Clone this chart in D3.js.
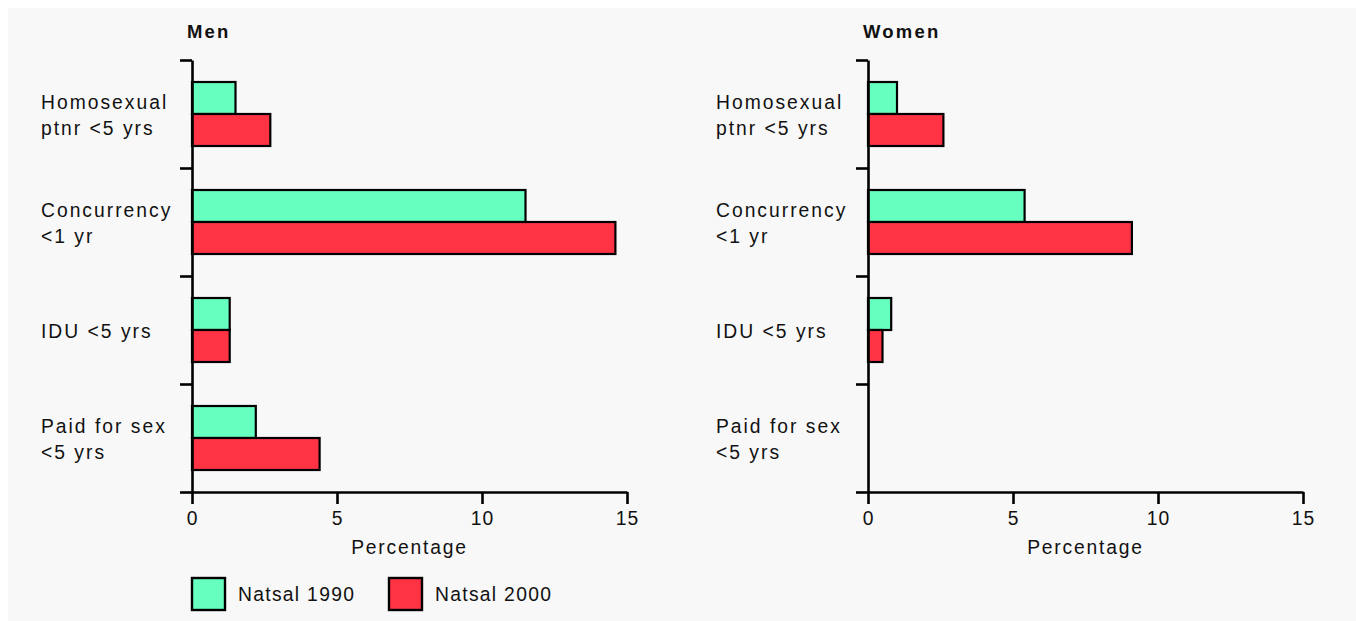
<!DOCTYPE html>
<html>
<head>
<meta charset="utf-8">
<script src="https://cdn.jsdelivr.net/npm/d3@7"></script>
<style>
  html, body { margin: 0; padding: 0; background: #ffffff; }
  svg { display: block; }
  text { font-family: "Liberation Sans", Arial, sans-serif; fill: #111; }
</style>
</head>
<body>
<svg id="chart" width="1356" height="621"></svg>
<script>
// ---- data ----
const categories = ["Homosexual|ptnr <5 yrs", "Concurrency|<1 yr", "IDU <5 yrs", "Paid for sex|<5 yrs"];
const seriesNames = ["Natsal 1990", "Natsal 2000"];
const men1990 = [1.5, 11.5, 1.3, 2.2];
const men2000 = [2.7, 14.6, 1.3, 4.4];
const women1990 = [1.0, 5.4, 0.8, null];
const women2000 = [2.6, 9.1, 0.5, null];
const xTicks = [0, 5, 10, 15];
const panelTitles = ["Men", "Women"];
const xTitle = "Percentage";

const colors = ["#66ffc0", "#ff3344"];

const svg = d3.select("#chart");
svg.append("rect").attr("x", 8).attr("y", 8).attr("width", 1348).attr("height", 613).attr("fill", "#f8f8f8");

const panels = [
  { title: panelTitles[0], s: [men1990, men2000], x0: 192, labelX: 41 },
  { title: panelTitles[1], s: [women1990, women2000], x0: 868, labelX: 716 }
];

const plotTop = 60, plotBottom = 492;
const LS = "1.8px";
const FS = "19.3px";

panels.forEach(p => {
  const g = svg.append("g");
  const x = d3.scaleLinear().domain([0, 15]).range([p.x0, p.x0 + 435]);
  const y = d3.scaleBand().domain(categories).range([plotTop, plotBottom]).padding(0);
  const ySub = d3.scaleBand().domain(seriesNames).range([0, y.bandwidth()]).paddingInner(0).paddingOuter(0.6875);
  const yLin = d3.scaleLinear().domain([0, categories.length]).range([plotTop, plotBottom]);

  // bars
  p.s.forEach((vals, si) => {
    g.selectAll(null)
      .data(categories.map((c, i) => ({ c, v: vals[i] })).filter(d => d.v != null))
      .enter().append("rect")
      .attr("x", x(0))
      .attr("y", d => y(d.c) + ySub(seriesNames[si]))
      .attr("width", d => x(d.v) - x(0))
      .attr("height", ySub.bandwidth())
      .attr("fill", colors[si])
      .attr("stroke", "#000")
      .attr("stroke-width", 2.2);
  });

  // y axis (ticks at category boundaries)
  const ya = g.append("g").attr("transform", `translate(${x(0)},0)`)
    .call(d3.axisLeft(yLin).tickValues(d3.range(0, categories.length + 1)).tickFormat("").tickSize(12).tickSizeOuter(0));
  ya.selectAll("path, line").attr("stroke", "#000").attr("stroke-width", 2.6);

  // x axis
  const xa = g.append("g").attr("transform", `translate(0,${plotBottom})`)
    .call(d3.axisBottom(x).tickValues(xTicks).tickSize(12).tickSizeOuter(0).tickPadding(7.5));
  xa.selectAll("path, line").attr("stroke", "#000").attr("stroke-width", 2.6);
  xa.selectAll("text").attr("font-size", FS).attr("fill", "#111")
    .style("font-family", '"Liberation Sans", Arial, sans-serif').style("letter-spacing", "1px");

  // category labels
  categories.forEach(c => {
    const lines = c.split("|");
    const cy = y(c) + y.bandwidth() / 2 + 1;
    lines.forEach((ln, li) => {
      g.append("text")
        .attr("x", p.labelX)
        .attr("y", cy + (li - (lines.length - 1) / 2) * 26)
        .attr("dy", "0.35em")
        .attr("font-size", FS)
        .style("letter-spacing", "2px")
        .text(ln);
    });
  });

  // panel title
  g.append("text").attr("x", p.x0 - 5).attr("y", 38)
    .attr("font-size", "18.5px").attr("font-weight", "bold").style("letter-spacing", "2.2px")
    .text(p.title);

  // x title
  g.append("text").attr("x", (x(0) + x(15)) / 2).attr("y", 554)
    .attr("text-anchor", "middle").attr("font-size", FS).style("letter-spacing", LS)
    .text(xTitle);
});

// legend
const leg = svg.append("g");
const legX = [192, 389];
seriesNames.forEach((n, i) => {
  leg.append("rect").attr("x", legX[i]).attr("y", 578).attr("width", 33).attr("height", 32)
    .attr("fill", colors[i]).attr("stroke", "#000").attr("stroke-width", 2.4);
  leg.append("text").attr("x", legX[i] + 46).attr("y", 594).attr("dy", "0.35em")
    .attr("font-size", FS).style("letter-spacing", "1.3px").text(n);
});
</script>
</body>
</html>
